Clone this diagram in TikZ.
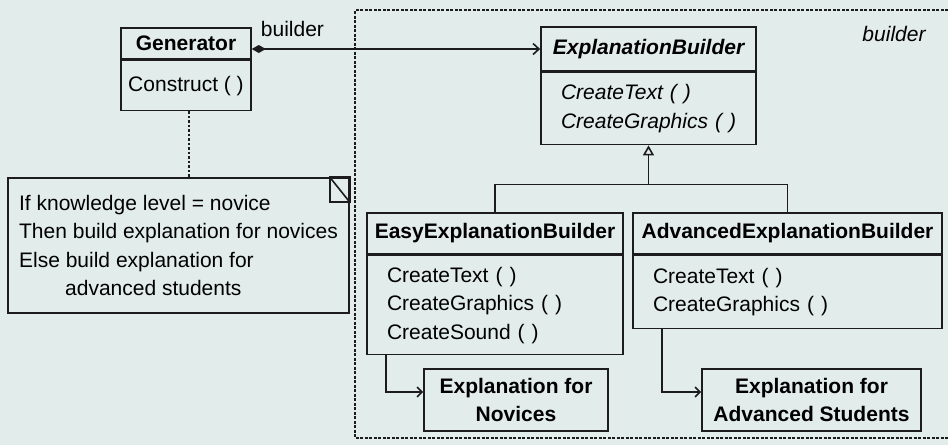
\documentclass[tikz,border=0pt]{standalone}
\usepackage{fontspec}
\setmainfont{Liberation Sans}
\usetikzlibrary{positioning,arrows.meta}

\definecolor{paper}{RGB}{226,236,234}
\definecolor{ink}{RGB}{28,28,28}
\newcommand{\umlsize}{\fontsize{21}{28.5}\selectfont}

\tikzset{
    line/.style={draw=ink, line width=1.6pt},
    clshead/.style={line, inner sep=0pt, font=\umlsize\bfseries},
    clsbody/.style={line, inner ysep=0pt, inner xsep=20pt, align=left, font=\umlsize},
    product/.style={line, inner sep=0pt, align=center, font=\umlsize\bfseries},
    notebox/.style={line, inner sep=0pt, align=left, font=\umlsize},
}

\begin{document}
\begin{tikzpicture}[x=1pt, y=-1pt]
    \useasboundingbox (0,0) rectangle (948,445);
    \fill[paper] (0,0) rectangle (948,445);

    % Package frame (runs off the right edge)
    \draw[line, dash pattern=on 3pt off 1.5pt]
        (948,10) -- (355,10) -- (355,438) -- (948,438);
    \node[font=\umlsize\itshape] (pkgname) at (894,34) {builder};

    % Director
    \node[clshead, minimum width=130pt, minimum height=31pt] (genhead) at (186,43.5) {Generator};
    \node[clsbody, inner xsep=0pt, minimum width=130pt, minimum height=50pt, below=0pt of genhead] (genbody) {Construct~(~)};

    % Abstract builder
    \node[clshead, font=\umlsize\bfseries\itshape, minimum width=215pt, minimum height=44pt] (ebhead) at (648.5,49) {ExplanationBuilder};
    \node[clsbody, font=\umlsize\itshape, text width=175pt, minimum height=72pt, below=0pt of ebhead] (ebbody) {CreateText~(~)\\CreateGraphics~(~)};

    % Concrete builders
    \node[clshead, minimum width=256pt, minimum height=41pt] (easyhead) at (495,233.5) {EasyExplanationBuilder};
    \node[clsbody, text width=216pt, minimum height=99pt, below=0pt of easyhead] (easybody) {CreateText~(~)\\CreateGraphics~(~)\\CreateSound~(~)};

    \node[clshead, minimum width=309pt, minimum height=41pt] (advhead) at (787.5,233.5) {AdvancedExplanationBuilder};
    \node[clsbody, text width=269pt, minimum height=73pt, below=0pt of advhead] (advbody) {CreateText~(~)\\CreateGraphics~(~)};

    % Products
    \node[product, minimum width=184pt, minimum height=62pt] (novices) at (516,400) {Explanation for\\Novices};
    \node[product, minimum width=219pt, minimum height=62pt] (advstud) at (811.5,400) {Explanation for\\Advanced Students};

    % Note
    \node[notebox, minimum width=341pt, minimum height=135pt] (note) at (178.5,245.5)
        {If knowledge level = novice\\Then build explanation for novices\\Else build explanation for\\\hspace*{46pt}advanced students};
    \draw[line] ([xshift=-20pt]note.north east) rectangle ([yshift=-25pt]note.north east);
    \draw[line] ([xshift=-20pt]note.north east) -- ([yshift=-25pt]note.north east);
    \draw[line, dash pattern=on 2.5pt off 2pt] ([xshift=3pt]genbody.south) -- ([xshift=3pt]genbody.south |- note.north);

    % Aggregation
    \draw[line, {Diamond[length=14pt,width=8pt]}-{Straight Barb[length=6pt,width=11pt]}]
        (genhead.east |- ebhead.west) -- node[pos=0, anchor=south west, xshift=5pt, yshift=8pt, font=\umlsize] {builder} (ebhead.west);

    % Inheritance
    \path (ebbody.south) ++(0,39) coordinate (fork);
    \draw[line] (easyhead.north) |- (fork) -| (advhead.north);
    \draw[line, -{Triangle[open, length=10pt, width=11pt]}] (fork) -- (ebbody.south);

    % Builders create products
    \draw[line, -{Straight Barb[length=5pt,width=10pt]}] ([xshift=20pt]easybody.south west) |- ([yshift=8pt]novices.west);
    \draw[line, -{Straight Barb[length=5pt,width=10pt]}] ([xshift=30pt]advbody.south west) |- ([yshift=8pt]advstud.west);
\end{tikzpicture}
\end{document}
